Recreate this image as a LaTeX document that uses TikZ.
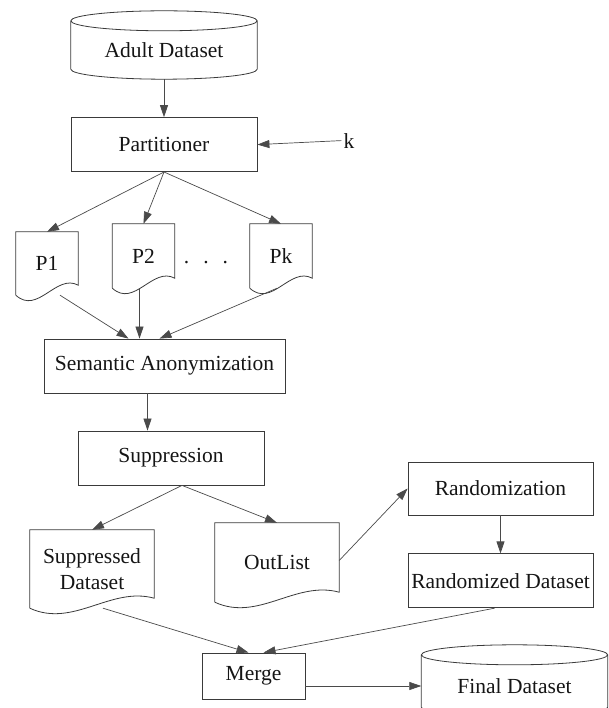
\documentclass[tikz,border=0pt]{standalone}
\usepackage{fontspec}
\setmainfont{Liberation Serif}
\usepackage{tikz}
\usetikzlibrary{arrows.meta,positioning,calc}
\definecolor{flowline}{HTML}{3A3A3A}
\definecolor{flowarrow}{HTML}{4A4A4A}
\definecolor{flowtext}{HTML}{151515}

% outlines drawn round plain nodes
\newcommand{\drumframe}[1]{%
  \draw[edge] let \p1=($(#1.east)-(#1.west)$) in
    (#1.north west) -- ([yshift=10pt]#1.south west)
    arc[start angle=180,end angle=360,x radius=0.5*\x1,y radius=10pt]
    -- (#1.north east)
    (#1.north) ellipse[x radius=0.5*\x1,y radius=10pt];}
\newcommand{\docframe}[1]{%
  \draw[edge] let \p1=($(#1.east)-(#1.west)$) in
    (#1.south west) -- (#1.north west) -- (#1.north east)
    -- ([yshift=10pt]#1.south east)
    .. controls ([xshift=0.65*\x1,yshift=22pt]#1.south west)
    and ([xshift=0.35*\x1,yshift=-20pt]#1.south west) .. (#1.south west);}

\begin{document}
\begin{tikzpicture}[x=1pt,y=1pt,
  box/.style={draw=flowline,line width=0.8pt,fill=white,inner sep=0pt,
              minimum width=186pt,minimum height=54pt,align=center,
              font=\fontsize{21.5}{26}\selectfont,text=flowtext},
  doc/.style={inner sep=0pt,minimum width=62pt,align=center,
              font=\fontsize{21.5}{26}\selectfont,text=flowtext},
  drum/.style={inner sep=0pt,minimum width=186pt,align=center,
              font=\fontsize{21.5}{26}\selectfont,text=flowtext},
  lbl/.style={inner sep=2pt,font=\fontsize{21.5}{26}\selectfont,text=flowtext},
  edge/.style={draw=flowline,line width=0.8pt},
  arr/.style={-{Triangle[length=12pt,width=8pt]},draw=flowarrow,line width=0.7pt}]
  \useasboundingbox (0,0) rectangle (608,-708);

  \node[drum,minimum height=58pt] (adult) at (164,-50) {Adult Dataset};
  \drumframe{adult}
  \node[box,below=38pt of adult] (part) {Partitioner};
  \node[lbl,right=84pt of part,yshift=4pt] (k) {k};

  \node[doc,minimum height=63pt] (p1) at (47,-263.5) {P1};
  \node[doc,minimum height=64pt] (p2) at (143.5,-256) {P2};
  \node[doc,minimum height=64pt] (pk) at (281,-256) {Pk};
  \foreach \d in {p1,p2,pk} {\docframe{\d}}
  \node[lbl] (dots) at (206,-263) {.\hspace{14pt}.\hspace{14pt}.};

  \node[box,minimum width=241pt] (sa) at (164.5,-366) {Semantic Anonymization};
  \node[box] (supp) at (171,-458) {Suppression};

  \node[doc,minimum width=124pt,minimum height=78pt] (sd) at (92,-569)
       {Suppressed\\Dataset};
  \node[doc,minimum width=124pt,minimum height=79pt] (outl) at (277,-562.5)
       {OutList};
  \docframe{sd}
  \docframe{outl}

  \node[box,minimum width=185pt,minimum height=53pt] (rand) at (500.5,-488.5)
       {Randomization};
  \node[box,minimum width=185pt,below=38pt of rand] (rdata) {Randomized Dataset};

  \node[box,minimum width=103pt,minimum height=46pt] (merge) at (253.5,-676)
       {Merge};
  \node[drum,minimum height=62pt] (final) at (514.5,-686) {Final Dataset};
  \drumframe{final}

  \draw[arr] (adult.south) -- (part.north);
  \draw[arr] (k.west) -- (part.east);
  \foreach \d in {p1,p2,pk} {\draw[arr] (part.south) -- (\d.north);}
  \draw[arr] ([xshift=13pt]p1.south) -- ([xshift=-36pt]sa.north);
  \draw[arr] ([xshift=-4pt]p2.south) -- ([xshift=-4pt]p2.south |- sa.north);
  \draw[arr] ([xshift=-4pt]pk.south) -- ([xshift=-5pt]sa.north);
  \draw[arr] ([xshift=-17pt]sa.south) -- ([xshift=-17pt]sa.south |- supp.north);
  \draw[arr] ([xshift=11pt]supp.south) -- (sd.north);
  \draw[arr] ([xshift=11pt]supp.south) -- (outl.north);
  \draw[arr] ([yshift=2pt]outl.east) -- (rand.west);
  \draw[arr] (rand.south) -- (rdata.north);
  \draw[arr] ([xshift=11pt]sd.south) -- ([xshift=-5pt]merge.north);
  \draw[arr] ([xshift=-6pt]rdata.south) -- ([xshift=10pt]merge.north);
  \draw[arr] (merge.east |- final.west) -- (final.west);
\end{tikzpicture}
\end{document}
